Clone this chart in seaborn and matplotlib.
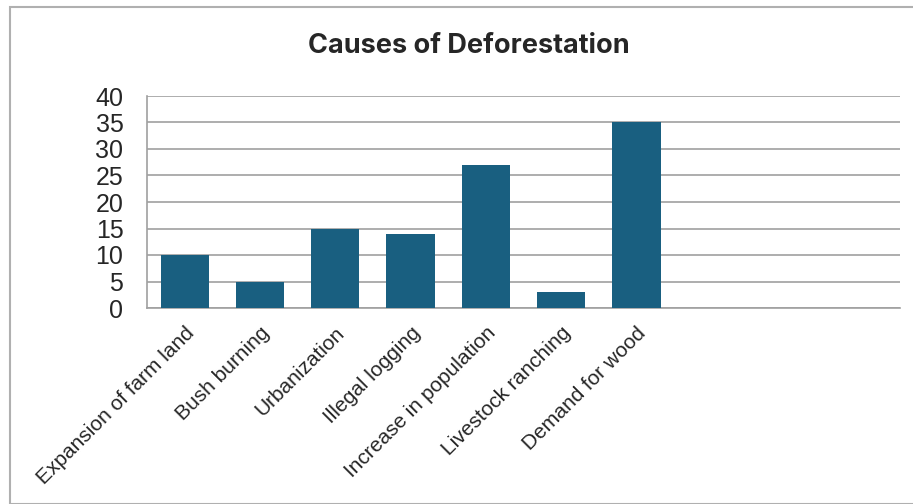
import matplotlib
matplotlib.use("Agg")
import matplotlib.pyplot as plt
import seaborn as sns
import pandas as pd
from matplotlib.patches import Rectangle

# Survey of deforestation causes (ten category slots, last three unused)
causes = [
    "Expansion of farm land",
    "Bush burning",
    "Urbanization",
    "Illegal logging",
    "Increase in population",
    "Livestock ranching",
    "Demand for wood",
    " ", "  ", "   ",
]
counts = [10, 5, 15, 14, 27, 3, 35, 0, 0, 0]
y_ticks = [0, 5, 10, 15, 20, 25, 30, 35, 40]

df = pd.DataFrame({"cause": causes, "count": counts})

sns.set_theme(style="white")
plt.rcParams["font.family"] = ["Liberation Sans", "DejaVu Sans"]

fig = plt.figure(figsize=(9.13, 5.04), dpi=100)
ax = fig.add_axes([147 / 913, 1 - 308 / 504, (900 - 147) / 913, (308 - 96) / 504])

# chart frame
fig.patches.append(Rectangle((10 / 913, 0), 1.0, 1 - 7 / 504, transform=fig.transFigure,
                             fill=False, edgecolor="#b0b0b0", linewidth=1.5, zorder=0))

sns.barplot(data=df, x="cause", y="count", color="#195f80", saturation=1,
            width=0.64, linewidth=0, ax=ax, zorder=3)

ax.set_ylim(0, 40)
ax.set_xlim(-0.5, len(causes) - 0.5)
ax.set_yticks(y_ticks)
ax.set_yticklabels([str(v) for v in y_ticks], fontsize=18)
ax.yaxis.grid(True, color="#a0a0a0", linewidth=1.2, zorder=0)
ax.set_axisbelow(True)
ax.tick_params(axis="y", length=0, pad=17)
ax.tick_params(axis="x", length=0, pad=11)

for lbl in ax.get_xticklabels():
    lbl.set_rotation(45)
    lbl.set_ha("right")
    lbl.set_rotation_mode("anchor")
    lbl.set_fontsize(15)

for side in ["top", "right"]:
    ax.spines[side].set_visible(False)
for side in ["left", "bottom"]:
    ax.spines[side].set_color("#a0a0a0")
    ax.spines[side].set_linewidth(1.2)

ax.set_xlabel("")
ax.set_ylabel("")

fig.text(469 / 913, 1 - 46 / 504, "Causes of Deforestation", ha="center", va="center",
         fontsize=19.5, fontweight="bold", family=["Inter", "DejaVu Sans"])

fig.savefig("out.png", dpi=100)
